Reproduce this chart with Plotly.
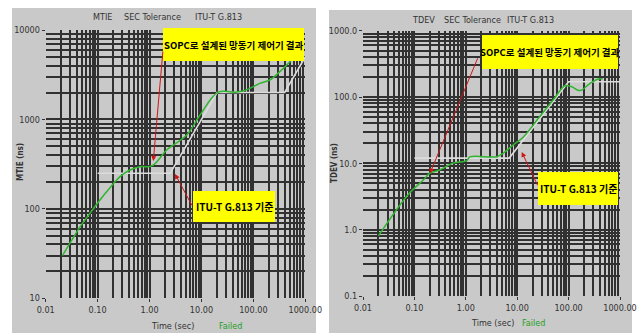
import plotly.graph_objects as go

W, H = 642, 333

# ---- data ----
mtie_t = [0.021, 0.032, 0.046, 0.071, 0.11, 0.17, 0.27, 0.42, 0.66, 0.95, 1.18, 1.48, 2.14, 5.2, 9.4, 21, 48, 74, 133, 207, 323, 505, 650]
mtie_v = [30, 45, 63, 89, 125, 170, 229, 272, 296, 296, 309, 352, 455, 669, 1120, 2020, 2020, 2140, 2530, 2760, 3420, 4420, 5300]
mtie_mask_t = [0.1, 2.5, 20, 400, 1000]
mtie_mask_v = [250, 250, 2000, 2000, 5000]

tdev_t = [0.02, 0.076, 0.149, 0.2, 0.315, 0.57, 1.04, 1.2, 4.0, 5.4, 8.4, 13.2, 27, 50, 85, 115, 166, 261, 378, 460]
tdev_v = [0.81, 3.4, 5.6, 7.1, 8.0, 10.1, 11.0, 12.5, 12.6, 14.3, 19, 25, 50, 90, 148, 143, 125, 161, 187, 188]
tdev_mask_t = [0.1, 7, 100, 1000]
tdev_mask_v = [12, 12, 170, 170]

x_tickvals = [0.01, 0.1, 1, 10, 100, 1000]
x_ticktext = ["0.01", "0.10", "1.00", "10.00", "100.00", "1000.00"]
mtie_tickvals = [10, 100, 1000, 10000]
mtie_ticktext = ["10", "100", "1000", "10000"]
tdev_tickvals = [0.1, 1, 10, 100, 1000]
tdev_ticktext = ["0.1", "1.0", "10.0", "100.0", "1000.0"]

title_parts = ["SEC Tolerance", "ITU-T G.813"]
sopc_label = "SOPC로 설계된 망동기 제어기 결과"
itu_label = "ITU-T G.813 기준"

GREEN = "#2fb52f"
MASK = "#dcdcdc"
RED = "#d01515"
GRID = "#313131"
PANEL = "#c9c9c9"
NARROW = "Liberation Sans Narrow, DejaVu Sans Condensed, Arial Narrow, sans-serif"
KFONT = "Noto Sans CJK KR, sans-serif"


def px(x):
    return x / W


def py(y):
    return 1 - y / H


fig = go.Figure()
fig.add_trace(go.Scatter(x=mtie_mask_t, y=mtie_mask_v, mode="lines",
                         line=dict(color=MASK, width=1.6), xaxis="x", yaxis="y", showlegend=False))
fig.add_trace(go.Scatter(x=mtie_t, y=mtie_v, mode="lines", line_shape="spline",
                         line=dict(color=GREEN, width=1.5), xaxis="x", yaxis="y", showlegend=False))
fig.add_trace(go.Scatter(x=tdev_mask_t, y=tdev_mask_v, mode="lines",
                         line=dict(color=MASK, width=1.6), xaxis="x2", yaxis="y2", showlegend=False))
fig.add_trace(go.Scatter(x=tdev_t, y=tdev_v, mode="lines", line_shape="spline",
                         line=dict(color=GREEN, width=1.5), xaxis="x2", yaxis="y2", showlegend=False))

tickfont = dict(family=NARROW, size=9, color="#333333")
minor = dict(dtick="D1", showgrid=True, gridcolor=GRID, gridwidth=1.7, ticks="")


def xax(domain, anchor):
    return dict(type="log", range=[-2, 3], domain=domain, anchor=anchor,
                tickvals=x_tickvals, ticktext=x_ticktext, tickfont=tickfont,
                ticks="outside", ticklen=3, tickcolor="#333", showline=False,
                showgrid=True, gridcolor=GRID, gridwidth=2, minor=minor, zeroline=False,
                automargin=False)


def yax(domain, anchor, rng, tv, tt):
    return dict(type="log", range=rng, domain=domain, anchor=anchor,
                tickvals=tv, ticktext=tt, tickfont=tickfont,
                ticks="outside", ticklen=3, tickcolor="#333", showline=False,
                showgrid=True, gridcolor=GRID, gridwidth=2, minor=minor, zeroline=False,
                automargin=False)


fig.update_layout(
    width=W, height=H, autosize=False,
    margin=dict(l=0, r=0, t=0, b=0),
    paper_bgcolor="white", plot_bgcolor="#646464",
    xaxis=xax([px(45.7), px(305.3)], "y"),
    yaxis=yax([py(298.3), py(30)], "x", [1, 4], mtie_tickvals, mtie_ticktext),
    xaxis2=xax([px(363), px(620)], "y2"),
    yaxis2=yax([py(296), py(30.7)], "x2", [-1, 3], tdev_tickvals, tdev_ticktext),
    showlegend=False,
)

shapes = [
    dict(type="rect", xref="paper", yref="paper", x0=px(12), x1=px(316), y0=py(333), y1=py(8),
         fillcolor=PANEL, line=dict(width=0), layer="below"),
    dict(type="rect", xref="paper", yref="paper", x0=px(329), x1=px(632), y0=py(333), y1=py(10),
         fillcolor=PANEL, line=dict(width=0), layer="below"),
]
boxes = [(163, 28, 304, 61), (193, 191, 275, 222), (482, 35, 618, 69), (538, 172, 618, 205)]
for x0, y0, x1, y1 in boxes:
    shapes.append(dict(type="rect", xref="paper", yref="paper", x0=px(x0), x1=px(x1), y0=py(y1), y1=py(y0),
                       fillcolor="#ffff00", line=dict(width=0), layer="above"))
fig.update_layout(shapes=shapes)

ann = []


def text(x, y, s, size=9, color="#333333", family=NARROW, angle=0, bold=False):
    ann.append(dict(x=px(x), y=py(y), xref="paper", yref="paper", text=f"<b>{s}</b>" if bold else s,
                    showarrow=False, textangle=angle, xanchor="center", yanchor="middle",
                    font=dict(family=family, size=size, color=color)))


# top titles
text(102, 17, "MTIE")
text(152, 17, title_parts[0])
text(218, 17, title_parts[1])
text(423, 20, "TDEV")
text(472, 20, title_parts[0])
text(530, 20, title_parts[1])
# axis titles
text(20, 162, "MTIE (ns)", size=8, angle=-90, bold=True)
text(334, 163, "TDEV (ns)", size=8, angle=-90, bold=True)
text(173, 326, "Time (sec)")
text(230, 326, "Failed", color="#22a022")
text(492, 323, "Time (sec)")
text(533, 323, "Failed", color="#22a022")
# yellow box labels
text(233.5, 44.5, sopc_label, size=9.5, color="black", family=KFONT, bold=True)
text(234, 206.5, itu_label, size=10, color="black", family=KFONT, bold=True)
text(550, 52, sopc_label, size=9.5, color="black", family=KFONT, bold=True)
text(578, 188.5, itu_label, size=10, color="black", family=KFONT, bold=True)


def arrow(hx, hy, tx, ty):
    ann.append(dict(x=px(hx), y=py(hy), xref="paper", yref="paper", text="", showarrow=True,
                    ax=tx - hx, ay=ty - hy, arrowhead=2, arrowsize=1, arrowwidth=1, arrowcolor=RED))


arrow(153.3, 161, 163, 50)
arrow(175, 174, 192.7, 206.7)
arrow(430, 173.3, 478.3, 56.7)
arrow(521.7, 152, 538.3, 186.7)

fig.update_layout(annotations=ann)

fig.write_html("out.html", config={"displayModeBar": False},
               post_script="document.body.style.margin='0';")
